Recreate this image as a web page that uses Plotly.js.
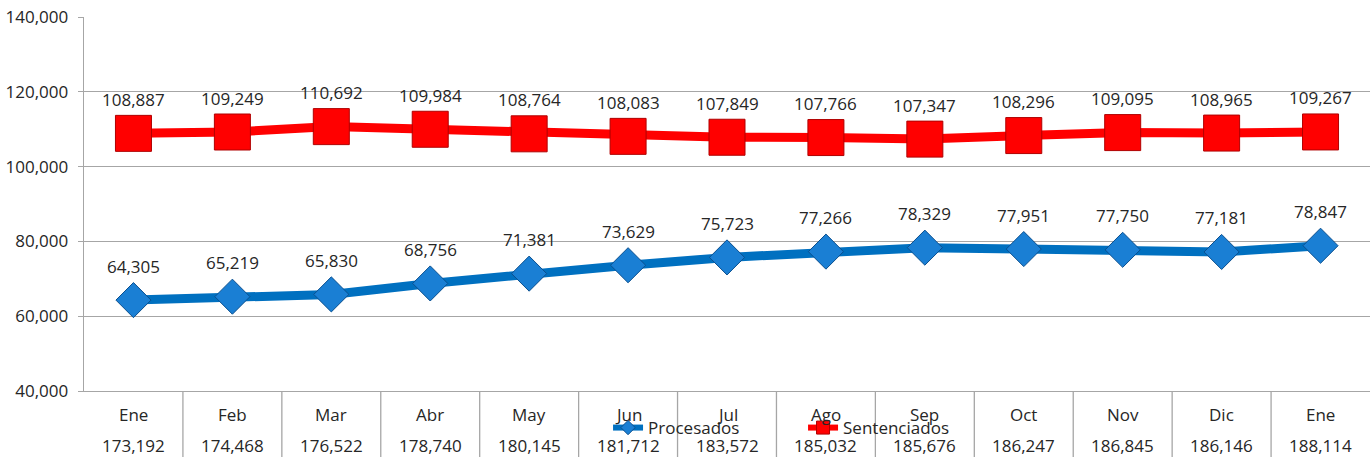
<!DOCTYPE html>
<html>
<head>
<meta charset="utf-8">
<script src="https://cdn.plot.ly/plotly-3.0.1.min.js"></script>
<style>
  html, body { margin: 0; padding: 0; background: #ffffff; }
  #chart { width: 1370px; height: 457px; }
</style>
</head>
<body>
<div id="chart"></div>
<script>
// ---- Data ----
const months = ["Ene", "Feb", "Mar", "Abr", "May", "Jun", "Jul", "Ago", "Sep", "Oct", "Nov", "Dic", "Ene"];
const procesados = [64305, 65219, 65830, 68756, 71381, 73629, 75723, 77266, 78329, 77951, 77750, 77181, 78847];
const sentenciados = [108887, 109249, 110692, 109984, 108764, 108083, 107849, 107766, 107347, 108296, 109095, 108965, 109267];
const totals = [173192, 174468, 176522, 178740, 180145, 181712, 183572, 185032, 185676, 186247, 186845, 186146, 188114];
const yTicks = [40000, 60000, 80000, 100000, 120000, 140000];

// ---- Styling ----
const FONT = "'Open Sans', 'Noto Sans', sans-serif";
const TXT = "#262626";
const GRID = "#a6a6a6";
const fmt = v => v.toLocaleString("en-US");
const xIdx = months.map((_, i) => i);

const traces = [
  {
    name: "Procesados",
    x: xIdx, y: procesados,
    type: "scatter", mode: "lines+markers",
    line: { color: "#0070c0", width: 9 },
    marker: { symbol: "diamond", size: 27, color: "#1a7fd4", line: { color: "#0a4f8f", width: 1 } },
    showlegend: false, hoverinfo: "y"
  },
  {
    name: "Sentenciados",
    x: xIdx, y: sentenciados,
    type: "scatter", mode: "lines+markers",
    line: { color: "#ff0000", width: 9 },
    marker: { symbol: "square", size: 36, color: "#ff0000", line: { color: "#b00000", width: 1 } },
    showlegend: false, hoverinfo: "y"
  },
  // legend entries (smaller symbols, as in the reference legend)
  {
    name: "Procesados",
    x: [null], y: [null],
    type: "scatter", mode: "lines+markers",
    line: { color: "#0070c0", width: 6 },
    marker: { symbol: "diamond", size: 11, color: "#1a7fd4", line: { color: "#0a4f8f", width: 1 } }
  },
  {
    name: "Sentenciados",
    x: [null], y: [null],
    type: "scatter", mode: "lines+markers",
    line: { color: "#ff0000", width: 6 },
    marker: { symbol: "square", size: 13, color: "#ff0000", line: { color: "#b00000", width: 1 } }
  }
];

const annotations = [];
// data labels
[procesados, sentenciados].forEach(series => {
  series.forEach((v, i) => {
    annotations.push({
      x: i, y: v, xref: "x", yref: "y",
      text: fmt(v), showarrow: false, yshift: 34,
      font: { family: FONT, size: 17, color: TXT }
    });
  });
});
// category table: month + total
months.forEach((m, i) => {
  annotations.push({
    x: i, y: -0.0615, xref: "x", yref: "paper", yanchor: "middle",
    text: m, showarrow: false,
    font: { family: FONT, size: 17, color: TXT }
  });
  annotations.push({
    x: i, y: -0.147, xref: "x", yref: "paper", yanchor: "middle",
    text: fmt(totals[i]), showarrow: false,
    font: { family: FONT, size: 17, color: TXT }
  });
});

// table separators
const shapes = [];
for (let i = 1; i < months.length; i++) {
  shapes.push({
    type: "line", xref: "x", yref: "paper",
    x0: i - 0.5, x1: i - 0.5, y0: -0.25, y1: 0,
    line: { color: GRID, width: 1.3 }
  });
}

const layout = {
  width: 1370, height: 457,
  margin: { l: 84, r: 0, t: 17, b: 66 },
  paper_bgcolor: "#ffffff", plot_bgcolor: "#ffffff",
  font: { family: FONT, size: 17, color: TXT },
  showlegend: true,
  legend: {
    orientation: "h",
    x: 0.4075, xanchor: "left",
    y: -0.099, yanchor: "middle",
    bgcolor: "rgba(0,0,0,0)",
    font: { family: FONT, size: 17, color: TXT },
    entrywidth: 150, entrywidthmode: "pixels",
    itemwidth: 30
  },
  xaxis: {
    type: "linear",
    range: [-0.5, months.length - 0.5],
    showticklabels: false, showgrid: false, zeroline: false,
    showline: true, linecolor: GRID, linewidth: 1.3,
    ticks: "", fixedrange: true
  },
  yaxis: {
    range: [40000, 140000],
    tickvals: yTicks,
    ticktext: yTicks.map(fmt),
    showgrid: true, gridcolor: GRID, gridwidth: 1.3,
    zeroline: false,
    showline: true, linecolor: GRID, linewidth: 1.3,
    ticks: "outside", ticklen: 5, tickcolor: GRID,
    ticklabelstandoff: 6,
    tickfont: { family: FONT, size: 17, color: TXT },
    fixedrange: true
  },
  annotations: annotations,
  shapes: shapes
};

Plotly.newPlot("chart", traces, layout, { displayModeBar: false, staticPlot: true });
</script>
</body>
</html>
